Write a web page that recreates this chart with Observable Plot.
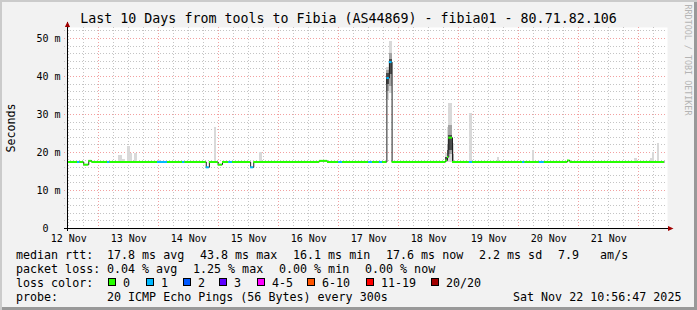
<!DOCTYPE html>
<html><head><meta charset="utf-8">
<script src="https://cdn.jsdelivr.net/npm/d3@7"></script>
<script src="https://cdn.jsdelivr.net/npm/@observablehq/plot@0.6"></script>
<style>
body{margin:0;background:#fff}
#wrap{position:relative;width:697px;height:310px;background:#f2f2f2;box-shadow:inset 2px 2px 0 #cbcbcb, inset -3px -3px 0 #999;overflow:hidden;font-family:"DejaVu Sans Mono",monospace;color:#000}
#wrap svg{position:absolute;left:0;top:0}
.abs{position:absolute;white-space:pre}
</style></head><body>
<div id="wrap"></div>
<script>
// ---------- data ----------
const title = "Last 10 Days from tools to Fibia (AS44869) - fibia01 - 80.71.82.106";
const yAxisTitle = "Seconds";
const watermark = "RRDTOOL / TOBI OETIKER";
const xDomain = ["2025-11-12T11:30Z", "2025-11-22T11:30Z"];
const yDomain = [0, 52.9];
const dayTicks = ["2025-11-12T12:00Z","2025-11-13T12:00Z","2025-11-14T12:00Z","2025-11-15T12:00Z","2025-11-16T12:00Z","2025-11-17T12:00Z","2025-11-18T12:00Z","2025-11-19T12:00Z","2025-11-20T12:00Z","2025-11-21T12:00Z"];
const dayLabels = ["12 Nov","13 Nov","14 Nov","15 Nov","16 Nov","17 Nov","18 Nov","19 Nov","20 Nov","21 Nov"];
const yTicks = [0, 10, 20, 30, 40, 50];
const yTickLabels = ["0\u00a0\u00a0", "10 m", "20 m", "30 m", "40 m", "50 m"];

// median rtt (ms): value holds from start time until next start; loss = lost pings
const medStart = ["2025-11-12T11:30Z","2025-11-12T15:30Z","2025-11-12T16:30Z","2025-11-12T18:00Z","2025-11-12T20:00Z","2025-11-12T21:15Z","2025-11-13T03:30Z","2025-11-13T04:30Z","2025-11-13T23:30Z","2025-11-14T03:30Z","2025-11-14T09:30Z","2025-11-14T10:30Z","2025-11-14T19:00Z","2025-11-14T20:15Z","2025-11-14T23:45Z","2025-11-15T01:30Z","2025-11-15T04:00Z","2025-11-15T05:30Z","2025-11-15T12:45Z","2025-11-15T14:00Z","2025-11-16T16:15Z","2025-11-16T19:30Z","2025-11-17T00:00Z","2025-11-17T01:30Z","2025-11-17T12:00Z","2025-11-17T13:30Z","2025-11-17T16:15Z","2025-11-17T17:30Z","2025-11-17T19:15Z","2025-11-17T20:15Z","2025-11-17T21:20Z","2025-11-18T18:45Z","2025-11-18T19:30Z","2025-11-18T20:00Z","2025-11-18T21:30Z","2025-11-19T04:15Z","2025-11-19T05:30Z","2025-11-20T01:30Z","2025-11-20T02:30Z","2025-11-20T08:15Z","2025-11-20T10:15Z","2025-11-20T19:30Z","2025-11-20T20:30Z"];
const medValue = [17.5,17.5,17.5,16.8,17.8,17.5,17.5,17.5,17.5,17.5,17.5,17.5,16.1,17.5,16.8,17.5,17.5,17.5,16.1,17.5,17.8,17.5,17.5,17.5,17.5,17.5,17.5,17.5,39.6,43.8,17.5,17.9,18.8,23.9,17.5,17.5,17.5,17.5,17.5,17.5,17.5,17.9,17.5];
const medLoss = [0,1,0,0,0,0,1,0,1,0,1,0,1,0,0,0,1,0,1,0,0,0,1,0,1,0,1,0,1,1,0,0,0,0,0,1,0,1,0,1,0,0,0];
const medEnd = "2025-11-22T10:15Z";

// smoke (spread of individual pings, ms); layer 0 = outer, 1 = middle, 2 = core
const smokeStart = ["2025-11-13T08:00Z","2025-11-13T09:30Z","2025-11-13T11:30Z","2025-11-13T12:30Z","2025-11-13T14:15Z","2025-11-14T00:00Z","2025-11-14T22:15Z","2025-11-15T16:15Z","2025-11-17T19:15Z","2025-11-17T19:15Z","2025-11-17T19:15Z","2025-11-17T20:15Z","2025-11-17T20:15Z","2025-11-17T20:15Z","2025-11-18T18:45Z","2025-11-18T18:45Z","2025-11-18T19:30Z","2025-11-18T19:30Z","2025-11-18T19:30Z","2025-11-18T20:00Z","2025-11-18T20:00Z","2025-11-18T20:00Z","2025-11-18T21:30Z","2025-11-18T21:30Z","2025-11-19T04:15Z","2025-11-19T15:30Z","2025-11-20T05:30Z","2025-11-21T22:15Z","2025-11-22T04:45Z","2025-11-22T05:30Z","2025-11-22T07:30Z"];
const smokeEnd = ["2025-11-13T09:30Z","2025-11-13T10:30Z","2025-11-13T12:30Z","2025-11-13T13:30Z","2025-11-13T15:30Z","2025-11-14T00:45Z","2025-11-14T23:15Z","2025-11-15T17:30Z","2025-11-17T20:15Z","2025-11-17T20:15Z","2025-11-17T20:15Z","2025-11-17T21:20Z","2025-11-17T21:20Z","2025-11-17T21:20Z","2025-11-18T19:30Z","2025-11-18T19:30Z","2025-11-18T20:00Z","2025-11-18T20:00Z","2025-11-18T20:00Z","2025-11-18T21:30Z","2025-11-18T21:30Z","2025-11-18T21:30Z","2025-11-18T22:15Z","2025-11-18T22:15Z","2025-11-19T05:30Z","2025-11-19T16:15Z","2025-11-20T06:15Z","2025-11-21T23:30Z","2025-11-22T05:30Z","2025-11-22T06:15Z","2025-11-22T08:15Z"];
const smokeLo = [17.5,17.5,17.5,17.5,17.5,17.5,17.5,17.5,34.0,36.0,38.0,35.5,37.5,40.5,17.5,17.9,17.5,18.0,18.5,17.5,19.5,20.5,17.5,17.5,17.5,17.5,17.5,17.5,17.5,17.5,17.5];
const smokeHi = [19.2,18.2,21.6,19.8,19.8,18.0,26.6,20.0,42.5,41.5,40.8,49.2,46.0,44.5,19.8,18.8,26.7,22.0,20.5,33.0,27.0,24.5,22.3,19.5,30.3,18.8,20.5,18.3,18.5,20.0,22.3];
const smokeLayer = [0,0,0,0,0,0,0,0,0,1,2,0,1,2,0,2,0,1,2,0,1,2,0,1,0,0,0,0,0,0,0];

// legend
const legendHeads = ["median rtt:", "packet loss:", "loss color:", "probe:"];
const rttStats = ["17.8 ms avg", "43.8 ms max", "16.1 ms min", "17.6 ms now", "2.2 ms sd", "7.9   am/s"];
const lossStats = ["0.04 % avg", "1.25 % max", "0.00 % min", "0.00 % now"];
const lossBins = ["0", "1", "2", "3", "4-5", "6-10", "11-19", "20/20"];
const probeText = "20 ICMP Echo Pings (56 Bytes) every 300s";
const stampText = "Sat Nov 22 10:56:47 2025";

// ---------- styles / layout ----------
const lossColors = ["#26ff00", "#00b8ff", "#0059ff", "#5e00ff", "#ff00ff", "#ff5500", "#ff0000", "#a10000"];
const smokeShades = ["#d9d9d9", "#a4a4a4", "#4c4c4c"];
const arrowColor = "#a00000";

const parse = s => new Date(s);
const x0 = parse(xDomain[0]), x1 = parse(xDomain[1]);
const medRows = medStart.map((s, i) => ({
  t0: parse(s), t1: parse(i + 1 < medStart.length ? medStart[i + 1] : medEnd),
  v: medValue[i], loss: medLoss[i]
}));
const medLine = medRows.map(d => ({t: d.t0, v: d.v}))
  .concat([{t: parse(medEnd), v: medValue[medValue.length - 1]}]);
const smokeRows = smokeStart.map((s, i) => ({t0: parse(s), t1: parse(smokeEnd[i]), lo: smokeLo[i], hi: smokeHi[i], layer: smokeLayer[i]}))
  .sort((a, b) => a.layer - b.layer);

const xMajor = d3.utcDay.range(x0, x1);
const xMinor = d3.utcHour.every(6).range(x0, x1).filter(d => d.getUTCHours() !== 0);
const yMajor = [10, 20, 30, 40, 50];
const yMinor = d3.range(2, 53, 2).filter(v => v % 10 !== 0);
const dayMap = new Map(dayTicks.map((t, i) => [+parse(t), dayLabels[i]]));
const yMap = new Map(yTicks.map((t, i) => [t, yTickLabels[i]]));

const upArrow = {draw(c) { c.moveTo(0, -6); c.lineTo(2.6, -0.5); c.lineTo(-2.6, -0.5); c.closePath(); }};
const rightArrow = {draw(c) { c.moveTo(6, 0); c.lineTo(0.5, -2.6); c.lineTo(0.5, 2.6); c.closePath(); }};

const grid = {strokeDasharray: "1,2", shapeRendering: "crispEdges"};
const chart = Plot.plot({
  width: 697, height: 245,
  marginLeft: 67, marginRight: 30, marginTop: 27, marginBottom: 17,
  x: {type: "utc", domain: [x0, x1]},
  y: {domain: yDomain},
  color: {type: "identity"},
  style: {background: "transparent", fontFamily: "DejaVu Sans Mono", fontSize: "10px", color: "#000"},
  marks: [
    Plot.frame({fill: "white", stroke: "none"}),
    Plot.ruleY(yMinor, {...grid, stroke: "#c4c4c4", insetLeft: -3}),
    Plot.ruleX(xMinor, {...grid, stroke: "#c4c4c4", insetBottom: -2}),
    Plot.ruleY(yMajor, {...grid, stroke: "#f2a0a0", insetLeft: -3}),
    Plot.ruleX(xMajor, {...grid, stroke: "#f2a0a0", insetBottom: -2}),
    Plot.rect(smokeRows, {x1: "t0", x2: "t1", y1: "lo", y2: "hi", fill: d => smokeShades[d.layer], shapeRendering: "crispEdges"}),
    Plot.line(medLine, {x: "t", y: "v", curve: "step-after", stroke: "#202020", strokeWidth: 1}),
    Plot.ruleY(medRows, {y: "v", x1: "t0", x2: "t1", stroke: d => lossColors[d.loss], strokeWidth: 2}),
    Plot.ruleX([x0], {stroke: "#000", insetTop: -5, insetBottom: -3}),
    Plot.ruleY([0], {stroke: "#000", insetLeft: -3, insetRight: -4}),
    Plot.dot([0], {frameAnchor: "top-left", symbol: upArrow, r: 3, fill: arrowColor, stroke: "none"}),
    Plot.dot([0], {frameAnchor: "bottom-right", symbol: rightArrow, r: 3, fill: arrowColor, stroke: "none"}),
    Plot.axisX(dayTicks.map(parse), {tickSize: 0, tickPadding: 6, tickFormat: d => dayMap.get(+d), label: null, fill: "#000"}),
    Plot.axisY(yTicks, {tickSize: 0, tickPadding: 7, tickFormat: d => yMap.get(d), label: null, fill: "#000"})
  ]
});

const wrap = document.getElementById("wrap");
wrap.appendChild(chart);

function addText(txt, css) {
  const el = document.createElement("div");
  el.className = "abs";
  el.textContent = txt;
  Object.assign(el.style, css);
  wrap.appendChild(el);
  return el;
}
addText(title, {left: "0px", top: "11px", width: "697px", textAlign: "center", fontSize: "13.3px", lineHeight: "16px"});
addText(yAxisTitle, {left: "11px", top: "127.5px", fontSize: "11.67px", lineHeight: "14px", transform: "translate(-50%,-50%) rotate(-90deg)"});
addText(watermark, {left: "688px", top: "60px", fontSize: "8.4px", lineHeight: "10px", color: "#b4b4b4", transform: "translate(-50%,-50%) rotate(90deg)"});

const rowTop = [247.5, 261.5, 275.5, 289.5];
const lf = {fontSize: "11.67px", lineHeight: "14px"};
legendHeads.forEach((h, i) => addText(h, {...lf, left: "16px", top: rowTop[i] + "px"}));
const rttX = [107, 200, 293, 386, 479, 558];
rttStats.forEach((s, i) => addText(s, {...lf, left: rttX[i] + "px", top: rowTop[0] + "px"}));
const lossX = [107, 193, 279, 365];
lossStats.forEach((s, i) => addText(s, {...lf, left: lossX[i] + "px", top: rowTop[1] + "px"}));
const boxX = [108, 146, 183, 219, 257, 307, 366, 431];
lossBins.forEach((s, i) => {
  const b = document.createElement("div");
  Object.assign(b.style, {position: "absolute", left: boxX[i] + "px", top: "278px", width: "8px", height: "8px", boxSizing: "border-box", border: "1px solid #000", background: lossColors[i]});
  wrap.appendChild(b);
  addText(s, {...lf, left: (boxX[i] + 15) + "px", top: rowTop[2] + "px"});
});
addText(probeText, {...lf, left: "107px", top: rowTop[3] + "px"});
addText(stampText, {...lf, left: "513px", top: rowTop[3] + "px"});
</script>
</body></html>
